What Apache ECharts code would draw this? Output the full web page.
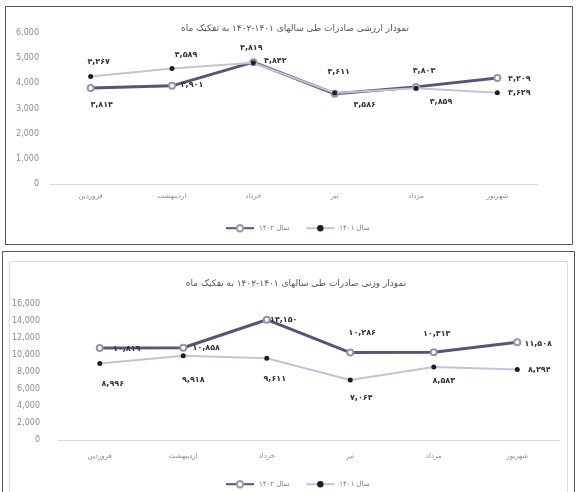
<!DOCTYPE html>
<html>
<head>
<meta charset="utf-8">
<script src="https://cdn.jsdelivr.net/npm/echarts@6/dist/echarts.min.js"></script>
<style>
html,body{margin:0;padding:0;background:#fff;}
#c{width:577px;height:492px;}
</style>
</head>
<body>
<div id="c"></div>
<script>
// ---- data ----
const categories = ['فروردین', 'اردیبهشت', 'خرداد', 'تیر', 'مرداد', 'شهریور'];
const seriesNames = ['سال ۱۴۰۲', 'سال ۱۴۰۱'];
const title1 = 'نمودار ارزشی صادرات طی سالهای ۱۴۰۱-۱۴۰۲ به تفکیک ماه';
const title2 = 'نمودار وزنی صادرات طی سالهای ۱۴۰۱-۱۴۰۲ به تفکیک ماه';
const value1402 = [3814, 3901, 4842, 3586, 3859, 4209];
const value1401 = [4267, 4589, 4819, 3611, 3803, 3629];
const weight1402 = [10819, 10858, 14150, 10286, 10313, 11508];
const weight1401 = [8996, 9918, 9611, 7064, 8583, 8294];
const valueAxisMax = 6000, valueAxisStep = 1000;
const weightAxisMax = 16000, weightAxisStep = 2000;

// ---- label placement (offsets of label centre from the point) ----
const offValue1402 = [[11,17],[20,-1],[22,-1],[30,11],[25,15],[22,1]];
const offValue1401 = [[8,-15],[14,-14],[-2,-15],[4,-21],[8,-17],[22,0]];
const offWeight1402 = [[27,1],[23,0],[17,0],[12,-20],[3,-18],[21,2]];
const offWeight1401 = [[13,20],[10,24],[8,21],[11,18],[10,14],[22,0]];

const FONT = "'DejaVu Sans', sans-serif";
const faDigits = '۰۱۲۳۴۵۶۷۸۹';
function toFa(n){
  return Number(n).toLocaleString('en-US').replace(/[0-9]/g, d => faDigits[+d]);
}
function build(values, offsets){
  return values.map((v, i) => ({
    value: v,
    label: { offset: offsets[i] }
  }));
}
const DARK = '#55557a';
const LIGHT = '#c3c3d6';

function lineSeries(name, values, offsets, idx, dark){
  return {
    name: name,
    type: 'line',
    xAxisIndex: idx, yAxisIndex: idx,
    data: build(values, offsets),
    symbol: dark ? 'emptyCircle' : 'circle',
    symbolSize: dark ? 6 : 5,
    showAllSymbol: true,
    z: dark ? 2 : 3,
    lineStyle: { color: dark ? DARK : LIGHT, width: dark ? 3 : 2 },
    itemStyle: dark ? { color: '#9494ac', borderWidth: 1.5 }
                    : { color: '#1d1d2b' },
    label: {
      show: true, position: 'inside',
      formatter: p => toFa(p.value),
      fontFamily: FONT, fontSize: 8, fontWeight: 'bold', color: '#333333'
    },
    emphasis: { disabled: true },
    animation: false
  };
}

function xAxis(idx, margin){
  return {
    type: 'category', gridIndex: idx, data: categories, boundaryGap: true,
    axisLine: { lineStyle: { color: '#d9d9d9', width: 1 } },
    axisTick: { show: false },
    axisLabel: { color: '#8c8c8c', fontFamily: FONT, fontSize: 7, margin: margin }
  };
}
function yAxis(idx, max, step, margin){
  return {
    type: 'value', gridIndex: idx, min: 0, max: max, interval: step,
    axisLine: { show: false }, axisTick: { show: false },
    splitLine: { show: false },
    axisLabel: { color: '#8c8c8c', fontFamily: FONT, fontSize: 8, margin: margin,
      formatter: v => Number(v).toLocaleString('en-US') }
  };
}

const chart = echarts.init(document.getElementById('c'), null, { renderer: 'canvas' });
chart.setOption({
  backgroundColor: '#ffffff',
  animation: false,
  graphic: [
    { type: 'rect', shape: { x: 5.5, y: 6.5, width: 567, height: 238 },
      style: { fill: 'none', stroke: '#555555', lineWidth: 1 }, z: 0 },
    { type: 'rect', shape: { x: 2.5, y: 251.5, width: 572, height: 245 },
      style: { fill: 'none', stroke: '#555555', lineWidth: 1 }, z: 0 },
    { type: 'rect', shape: { x: 9.5, y: 261.5, width: 558, height: 240 },
      style: { fill: 'none', stroke: '#dcdcdc', lineWidth: 1 }, z: 0 }
  ],
  title: [
    { text: title1, left: 290, top: 19, textAlign: 'center',
      textStyle: { fontFamily: FONT, fontSize: 9, fontWeight: 'normal', color: '#555555' } },
    { text: title2, left: 291, top: 274, textAlign: 'center',
      textStyle: { fontFamily: FONT, fontSize: 9, fontWeight: 'normal', color: '#555555' } }
  ],
  legend: [
    { data: seriesNames, left: 220, top: 219, itemWidth: 28, itemHeight: 8, itemGap: 16,
      textStyle: { fontFamily: FONT, fontSize: 7, color: '#7a7a7a' }, selectedMode: false },
    { data: seriesNames, left: 220, top: 475, itemWidth: 28, itemHeight: 8, itemGap: 16,
      textStyle: { fontFamily: FONT, fontSize: 7, color: '#7a7a7a' }, selectedMode: false }
  ],
  grid: [
    { left: 50, right: 39, top: 33, height: 151 },
    { left: 58, right: 18, top: 304, height: 136 }
  ],
  xAxis: [ xAxis(0, 9), xAxis(1, 13) ],
  yAxis: [ yAxis(0, valueAxisMax, valueAxisStep, 11), yAxis(1, weightAxisMax, weightAxisStep, 18) ],
  series: [
    lineSeries(seriesNames[0], value1402, offValue1402, 0, true),
    lineSeries(seriesNames[1], value1401, offValue1401, 0, false),
    lineSeries(seriesNames[0], weight1402, offWeight1402, 1, true),
    lineSeries(seriesNames[1], weight1401, offWeight1401, 1, false)
  ]
});
</script>
</body>
</html>
